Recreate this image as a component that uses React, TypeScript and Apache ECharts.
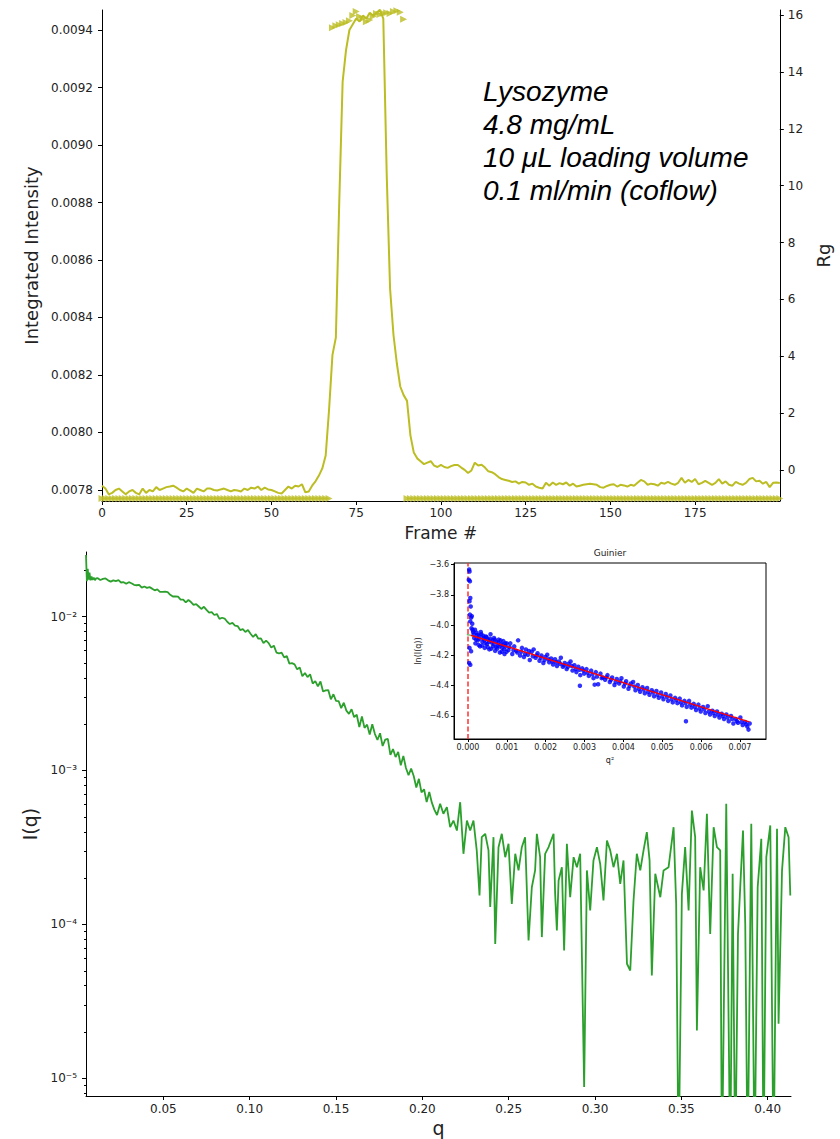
import React, { useEffect, useRef } from "react";
import * as echarts from "echarts";

// ---------- Top panel: integrated intensity per frame (frame # = index) ----------
const intensity: number[] = [
  0.007815, 0.007805, 0.007785, 0.00779, 0.0078, 0.007805, 0.007795, 0.007785, 0.007795, 0.0078,
  0.00779, 0.007785, 0.007805, 0.00779, 0.0078, 0.007795, 0.00781, 0.0078, 0.007805, 0.00781,
  0.007812, 0.007815, 0.007808, 0.0078, 0.007795, 0.007805, 0.007798, 0.00779, 0.007805, 0.0078,
  0.007795, 0.007805, 0.007805, 0.0078, 0.007798, 0.007802, 0.007805, 0.0078, 0.007795, 0.0078,
  0.007798, 0.007795, 0.007805, 0.0078, 0.007808, 0.007805, 0.007812, 0.0078, 0.007808, 0.007802,
  0.0078, 0.007795, 0.00779, 0.007788, 0.0078, 0.007812, 0.007805, 0.007815, 0.007812, 0.00782,
  0.007792, 0.007795, 0.007815, 0.00783, 0.00785, 0.007875, 0.00792, 0.00808, 0.00827, 0.00833,
  0.0088, 0.00922, 0.00933, 0.0094, 0.00942, 0.00944, 0.00943, 0.00945, 0.00944, 0.00946,
  0.00945, 0.00946, 0.00947, 0.00944, 0.0089, 0.0085, 0.00834, 0.00824, 0.00816, 0.00813,
  0.00811, 0.00799, 0.00793, 0.00791, 0.0079, 0.00789, 0.007895, 0.0079, 0.007885, 0.00788,
  0.007887, 0.00788, 0.007877, 0.007883, 0.007887, 0.007887, 0.007878, 0.00787, 0.007859, 0.007868,
  0.007895, 0.007885, 0.007888, 0.007878, 0.007865, 0.007862, 0.007855, 0.007845, 0.007838, 0.007835,
  0.007832, 0.007828, 0.00783, 0.007822, 0.007828, 0.007826, 0.007818, 0.007822, 0.007812, 0.007808,
  0.007805, 0.007825, 0.007815, 0.007826, 0.007818, 0.007824, 0.00782, 0.007826, 0.007815, 0.007822,
  0.007812, 0.007815, 0.007818, 0.00782, 0.007822, 0.00782, 0.007818, 0.00781, 0.007808, 0.007814,
  0.007818, 0.00782, 0.007812, 0.007818, 0.007816, 0.007812, 0.007818, 0.007815, 0.007825, 0.007835,
  0.00783, 0.007818, 0.007822, 0.00782, 0.007815, 0.007825, 0.007822, 0.007828, 0.007822, 0.007818,
  0.007825, 0.007842, 0.007825, 0.007835, 0.007828, 0.007838, 0.00782, 0.007825, 0.007832, 0.007825,
  0.007818, 0.007825, 0.007838, 0.007822, 0.00783, 0.007818, 0.007815, 0.007828, 0.007822, 0.007818,
  0.007825, 0.007838, 0.007842, 0.00783, 0.007832, 0.007822, 0.007828, 0.00781, 0.007825, 0.007826,
  0.007824,
];

// Rg per frame (frame # = index); -1 where no Rg was found
const rg: number[] = [
  -1, -1, -1, -1, -1, -1, -1, -1, -1, -1,
  -1, -1, -1, -1, -1, -1, -1, -1, -1, -1,
  -1, -1, -1, -1, -1, -1, -1, -1, -1, -1,
  -1, -1, -1, -1, -1, -1, -1, -1, -1, -1,
  -1, -1, -1, -1, -1, -1, -1, -1, -1, -1,
  -1, -1, -1, -1, -1, -1, -1, -1, -1, -1,
  -1, -1, -1, -1, -1, -1, -1, -1, 15.55, 15.62,
  15.66, 15.7, 15.74, 15.8, 15.98, 16.12, 15.95, 15.88, 15.76, 15.82,
  15.95, 16.05, 16.02, 16.06, 16.08, 16.05, 16.12, 16.15, 16.1, 15.85,
  -1, -1, -1, -1, -1, -1, -1, -1, -1, -1,
  -1, -1, -1, -1, -1, -1, -1, -1, -1, -1,
  -1, -1, -1, -1, -1, -1, -1, -1, -1, -1,
  -1, -1, -1, -1, -1, -1, -1, -1, -1, -1,
  -1, -1, -1, -1, -1, -1, -1, -1, -1, -1,
  -1, -1, -1, -1, -1, -1, -1, -1, -1, -1,
  -1, -1, -1, -1, -1, -1, -1, -1, -1, -1,
  -1, -1, -1, -1, -1, -1, -1, -1, -1, -1,
  -1, -1, -1, -1, -1, -1, -1, -1, -1, -1,
  -1, -1, -1, -1, -1, -1, -1, -1, -1, -1,
  -1, -1, -1, -1, -1, -1, -1, -1, -1, -1,
  -1,
];

const frameTicks = [0, 25, 50, 75, 100, 125, 150, 175];
const intensityTicks = [0.0078, 0.008, 0.0082, 0.0084, 0.0086, 0.0088, 0.009, 0.0092, 0.0094];
const rgTicks = [0, 2, 4, 6, 8, 10, 12, 14, 16];

// ---------- Bottom panel: I(q), stored as [q, log10 I(q)] (plotted on a log-decade axis) ----------
const iqLog10: [number, number][] = [
  [0.0052, -1.6], [0.0057, -1.77], [0.0062, -1.69], [0.0067, -1.76], [0.0072, -1.715], [0.0078, -1.765],
  [0.0084, -1.74], [0.009, -1.762], [0.0097, -1.748], [0.0104, -1.764], [0.0111, -1.752],
  [0.012, -1.751], [0.0135, -1.763], [0.015, -1.756], [0.0165, -1.753], [0.018, -1.765], [0.0195, -1.773],
  [0.021, -1.765], [0.0225, -1.77], [0.024, -1.764], [0.0255, -1.779], [0.027, -1.777], [0.0285, -1.787],
  [0.03, -1.777], [0.0315, -1.784], [0.033, -1.794], [0.0345, -1.797], [0.036, -1.794], [0.0375, -1.812],
  [0.039, -1.805], [0.0405, -1.814], [0.042, -1.809], [0.0435, -1.819], [0.045, -1.83], [0.0465, -1.824],
  [0.048, -1.84], [0.0495, -1.84], [0.051, -1.839], [0.0525, -1.842], [0.054, -1.859], [0.0555, -1.87],
  [0.057, -1.869], [0.0585, -1.871], [0.06, -1.89], [0.0615, -1.89], [0.063, -1.908], [0.0645, -1.893],
  [0.066, -1.906], [0.0675, -1.924], [0.069, -1.919], [0.0705, -1.935], [0.072, -1.951], [0.0735, -1.937],
  [0.075, -1.957], [0.0765, -1.975], [0.078, -1.971], [0.0795, -1.99], [0.081, -1.984], [0.0825, -2.015],
  [0.084, -2.008], [0.0855, -2.013], [0.087, -2.034], [0.0885, -2.049], [0.09, -2.041], [0.0915, -2.059],
  [0.093, -2.062], [0.0945, -2.088], [0.096, -2.082], [0.0975, -2.1], [0.099, -2.088], [0.1005, -2.112],
  [0.102, -2.133], [0.1035, -2.114], [0.105, -2.144], [0.1065, -2.142], [0.108, -2.173], [0.1095, -2.157],
  [0.111, -2.173], [0.1125, -2.202], [0.114, -2.189], [0.1155, -2.234], [0.117, -2.239], [0.1185, -2.235],
  [0.12, -2.265], [0.1215, -2.257], [0.123, -2.306], [0.1245, -2.303], [0.126, -2.311], [0.1275, -2.343],
  [0.129, -2.331], [0.1305, -2.388], [0.132, -2.367], [0.1335, -2.393], [0.135, -2.375], [0.1365, -2.435],
  [0.138, -2.419], [0.1395, -2.454], [0.141, -2.422], [0.1425, -2.487], [0.144, -2.48], [0.1455, -2.478],
  [0.147, -2.538], [0.1485, -2.505], [0.15, -2.548], [0.1515, -2.549], [0.153, -2.595], [0.1545, -2.56],
  [0.156, -2.611], [0.1575, -2.632], [0.159, -2.602], [0.1605, -2.654], [0.162, -2.638], [0.1635, -2.718],
  [0.165, -2.649], [0.1665, -2.723], [0.168, -2.702], [0.1695, -2.766], [0.171, -2.7], [0.1725, -2.762],
  [0.174, -2.802], [0.1755, -2.758], [0.177, -2.841], [0.1785, -2.8], [0.18, -2.795], [0.1815, -2.898],
  [0.183, -2.861], [0.1845, -2.913], [0.186, -2.879], [0.1875, -2.966], [0.189, -2.905], [0.1905, -2.984],
  [0.192, -3.031], [0.1935, -2.988], [0.195, -3.036], [0.1965, -3.11], [0.198, -3.054], [0.1995, -3.142],
  [0.201, -3.122], [0.2025, -3.205], [0.204, -3.14], [0.2055, -3.209], [0.207, -3.256], [0.2085, -3.289],
  [0.2103, -3.216], [0.2122, -3.281], [0.2142, -3.238], [0.2161, -3.368], [0.218, -3.325], [0.22, -3.39],
  [0.2219, -3.206], [0.2238, -3.541], [0.2258, -3.325], [0.2277, -3.39], [0.2296, -3.325], [0.2315, -3.519],
  [0.2331, -3.812], [0.2344, -3.433], [0.2364, -3.411], [0.2383, -3.519], [0.2393, -3.887], [0.2412, -3.433],
  [0.2422, -4.126], [0.2441, -3.498], [0.246, -3.411], [0.248, -3.563], [0.2499, -3.476], [0.2518, -3.866],
  [0.2538, -3.541], [0.2557, -3.649], [0.2576, -3.498], [0.2595, -3.433], [0.2615, -4.104], [0.2634, -3.758],
  [0.2653, -3.649], [0.2663, -3.411], [0.2682, -3.563], [0.2692, -4.082], [0.2711, -3.541], [0.2731, -3.498],
  [0.276, -3.411], [0.2769, -3.801], [0.2779, -4.039], [0.2789, -3.714], [0.2808, -3.628], [0.2821, -4.169],
  [0.2837, -3.476], [0.2856, -3.823], [0.2876, -3.563], [0.2895, -3.628], [0.2914, -3.541], [0.2937, -5.056],
  [0.2953, -3.649], [0.2972, -3.909], [0.2991, -3.584], [0.3011, -3.498], [0.303, -3.606], [0.3049, -3.844],
  [0.3069, -3.455], [0.3088, -3.519], [0.3107, -3.628], [0.3127, -3.541], [0.3146, -3.736], [0.3165, -3.584],
  [0.3185, -4.255], [0.3204, -4.299], [0.3223, -3.844], [0.3242, -3.541], [0.3262, -3.649], [0.3281, -3.519],
  [0.33, -3.4], [0.3316, -3.584], [0.3329, -4.331], [0.3349, -3.671], [0.3378, -3.823], [0.3397, -3.649],
  [0.3426, -3.628], [0.3455, -3.368], [0.347, -3.866], [0.3484, -5.6], [0.3503, -3.801], [0.3522, -3.498],
  [0.3542, -3.909], [0.3561, -3.26], [0.358, -3.433], [0.359, -4.688], [0.3609, -3.628], [0.3629, -3.779],
  [0.3648, -3.281], [0.3667, -4.061], [0.3687, -3.368], [0.3706, -3.498], [0.3725, -3.519], [0.3735, -5.6],
  [0.376, -3.216], [0.3783, -5.6], [0.3797, -3.671], [0.3812, -5.6], [0.3828, -4.061], [0.3841, -3.758],
  [0.3857, -3.39], [0.387, -3.996], [0.3884, -5.6], [0.3905, -3.346], [0.3924, -5.6], [0.3942, -3.758],
  [0.3963, -3.444], [0.3976, -5.6], [0.3992, -3.563], [0.4015, -3.357], [0.4034, -5.6], [0.4054, -3.379],
  [0.4063, -4.645], [0.4083, -3.649], [0.4102, -3.368], [0.4121, -3.433], [0.4131, -3.812],
];

const qTicks = [0.05, 0.1, 0.15, 0.2, 0.25, 0.3, 0.35, 0.4];
const iqDecades = [-5, -4, -3, -2];
const iqTickLabels = ["10\u207B\u2075", "10\u207B\u2074", "10\u207B\u00B3", "10\u207B\u00B2"];

// ---------- Inset: Guinier plot [q^2, ln I(q)] ----------
const guinierPoints: [number, number][] = [
  [0.00003, -3.632], [0.00004, -3.645], [0.00002, -3.7], [0.00005, -3.71], [0.00006, -3.82], [0.00004, -3.842],
  [0.00007, -3.876], [0.00005, -3.93], [0.00008, -3.95], [0.00006, -3.975], [0.00009, -4.02], [0.00004, -4.15],
  [0.00008, -4.172], [0.00003, -4.25], [0.00006, -4.262], [0.0001, -3.94], [0.00011, -3.99], [0.00012, -4.03],
  [0.00013, -4.045], [0.00016, -4.085], [0.00019, -4.12], [0.00022, -4.05], [0.00025, -4.1], [0.00028, -4.07],
  [0.00031, -4.14], [0.00034, -4.06], [0.00037, -4.11], [0.0004, -4.085], [0.00043, -4.15], [0.00046, -4.075],
  [0.00049, -4.125], [0.00052, -4.095], [0.00055, -4.16], [0.00058, -4.06], [0.00061, -4.115], [0.00064, -4.14],
  [0.00067, -4.085], [0.0007, -4.17], [0.00073, -4.11], [0.00076, -4.135], [0.00079, -4.095], [0.00082, -4.18],
  [0.00085, -4.125], [0.00088, -4.15], [0.00091, -4.105], [0.00094, -4.19], [0.00097, -4.14], [0.001, -4.12],
  [0.00104, -4.165], [0.00109, -4.12], [0.00114, -4.19], [0.00119, -4.14], [0.00124, -4.17], [0.00129, -4.1],
  [0.00134, -4.2], [0.00139, -4.15], [0.00144, -4.21], [0.00149, -4.16], [0.00154, -4.195], [0.00159, -4.23],
  [0.00164, -4.175], [0.00169, -4.16], [0.00174, -4.215], [0.00179, -4.185], [0.00184, -4.235], [0.00189, -4.2],
  [0.00194, -4.25], [0.00199, -4.21], [0.00204, -4.195], [0.00209, -4.245], [0.00214, -4.22], [0.00219, -4.26],
  [0.00224, -4.225], [0.00229, -4.27], [0.00234, -4.24], [0.00239, -4.215], [0.00244, -4.275], [0.00249, -4.25],
  [0.00254, -4.29], [0.00259, -4.255], [0.00264, -4.24], [0.00269, -4.3], [0.00274, -4.265], [0.00279, -4.31],
  [0.00284, -4.275], [0.00288, -4.4], [0.00289, -4.33], [0.00294, -4.285], [0.00299, -4.32], [0.00305, -4.29],
  [0.00311, -4.335], [0.00317, -4.3], [0.00323, -4.35], [0.00326, -4.393], [0.00329, -4.31], [0.00335, -4.39],
  [0.00341, -4.32], [0.00347, -4.345], [0.00353, -4.36], [0.00359, -4.33], [0.00365, -4.375], [0.00371, -4.345],
  [0.00377, -4.395], [0.00383, -4.355], [0.00389, -4.385], [0.00395, -4.35], [0.00401, -4.405], [0.00407, -4.37],
  [0.00413, -4.42], [0.00419, -4.385], [0.00425, -4.375], [0.00431, -4.43], [0.00437, -4.395], [0.00443, -4.44],
  [0.00449, -4.41], [0.00455, -4.45], [0.00461, -4.415], [0.00467, -4.46], [0.00473, -4.43], [0.00479, -4.47],
  [0.00485, -4.435], [0.00491, -4.48], [0.00497, -4.445], [0.00503, -4.49], [0.00509, -4.455], [0.00515, -4.5],
  [0.00521, -4.465], [0.00527, -4.51], [0.00533, -4.48], [0.00539, -4.515], [0.00545, -4.485], [0.00551, -4.53],
  [0.00557, -4.5], [0.00561, -4.635], [0.00563, -4.54], [0.00569, -4.5], [0.00575, -4.545], [0.00581, -4.52],
  [0.00587, -4.56], [0.00593, -4.525], [0.00599, -4.57], [0.00605, -4.54], [0.00611, -4.58], [0.00617, -4.535],
  [0.00623, -4.59], [0.00629, -4.565], [0.00635, -4.6], [0.00641, -4.57], [0.00647, -4.61], [0.00653, -4.585],
  [0.00659, -4.62], [0.00665, -4.59], [0.00671, -4.635], [0.00677, -4.6], [0.00683, -4.65], [0.00689, -4.62],
  [0.00695, -4.645], [0.00701, -4.61], [0.00707, -4.66], [0.00713, -4.64], [0.00719, -4.67], [0.00722, -4.69],
  [0.00725, -4.65],
  [0.00015, -4.06], [0.00018, -4.03], [0.00021, -4.095], [0.00024, -4.065], [0.00027, -4.13], [0.0003, -4.09],
  [0.00033, -4.045], [0.00036, -4.135], [0.00039, -4.07], [0.00042, -4.1], [0.00045, -4.12], [0.00048, -4.08],
  [0.00051, -4.145], [0.00054, -4.11], [0.00057, -4.09], [0.0006, -4.155], [0.00063, -4.1], [0.00066, -4.125],
  [0.00069, -4.095], [0.00072, -4.145], [0.00075, -4.155], [0.00078, -4.115], [0.00081, -4.14], [0.00084, -4.1],
  [0.00087, -4.175], [0.0009, -4.13], [0.00093, -4.16], [0.00096, -4.12], [0.00099, -4.175],
  [0.00107, -4.145], [0.00117, -4.165], [0.00127, -4.18], [0.00137, -4.175], [0.00147, -4.19], [0.00157, -4.17],
  [0.00167, -4.205], [0.00177, -4.2], [0.00187, -4.215], [0.00197, -4.23], [0.00207, -4.225], [0.00217, -4.24],
  [0.00227, -4.245], [0.00237, -4.255], [0.00247, -4.265], [0.00257, -4.275], [0.00267, -4.27], [0.00277, -4.29],
  [0.00287, -4.295], [0.00297, -4.3],
  [0.00308, -4.315], [0.0032, -4.325], [0.00332, -4.34], [0.00344, -4.35], [0.00356, -4.345], [0.00368, -4.36],
  [0.0038, -4.375], [0.00392, -4.37], [0.00404, -4.385], [0.00416, -4.4], [0.00428, -4.405], [0.0044, -4.42],
  [0.00452, -4.425], [0.00464, -4.44], [0.00476, -4.445], [0.00488, -4.46], [0.005, -4.47], [0.00512, -4.475],
  [0.00524, -4.49], [0.00536, -4.495], [0.00548, -4.51], [0.0056, -4.515], [0.00572, -4.525], [0.00584, -4.54],
  [0.00596, -4.55], [0.00608, -4.555], [0.0062, -4.57], [0.00632, -4.58], [0.00644, -4.59], [0.00656, -4.6],
  [0.00668, -4.61], [0.0068, -4.62], [0.00692, -4.635], [0.00704, -4.64], [0.00716, -4.655],
];
const guinierFit: [number, number][] = [[0.00007, -4.066], [0.00724, -4.639]];
const guinierExtrapolation: [number, number][] = [[-0.00003, -4.063], [0.00007, -4.066]];
const guinierLimits = [0.00007, 0.00724];
const q2Ticks = [0, 0.001, 0.002, 0.003, 0.004, 0.005, 0.006, 0.007];
const lnTicks = [-4.6, -4.4, -4.2, -4.0, -3.8, -3.6];

const FONT = "DejaVu Sans";
const OLIVE = "#bcbd22";

function axisCommon(ticks: number[], fontSize: number, margin: number, tickLen: number, formatter?: (v: number) => string) {
  return {
    axisLine: { show: true, onZero: false, lineStyle: { color: "#000", width: 1 } },
    axisTick: { show: true, inside: false, length: tickLen, customValues: ticks, lineStyle: { color: "#000", width: 1 } },
    axisLabel: {
      show: true,
      customValues: ticks,
      fontFamily: FONT,
      fontSize,
      color: "#222",
      margin,
      ...(formatter ? { formatter } : {}),
    },
    splitLine: { show: false },
  };
}

function buildOption() {
  const yMin = -5.114;
  const yMax = -1.581;
  const minorLog: number[] = [];
  [-6, -5, -4, -3, -2].forEach((d) => {
    for (let m = 2; m <= 9; m++) {
      const v = d + Math.log10(m);
      if (v > yMin && v < yMax) minorLog.push(v);
    }
  });
  const fmtMinus = (v: number, digits: number) => (v < 0 ? "\u2212" : "") + Math.abs(v).toFixed(digits);

  return {
    animation: false,
    backgroundColor: "#fff",
    textStyle: { fontFamily: FONT },
    grid: [
      { left: 102, top: 10, width: 681, height: 491 },
      { left: 86, top: 552, width: 705, height: 544 },
      { left: 454, top: 563, width: 312, height: 176, show: true, borderColor: "#000", borderWidth: 1, backgroundColor: "#fff" },
    ],
    xAxis: [
      {
        type: "value", gridIndex: 0, min: 0, max: 200,
        ...axisCommon(frameTicks, 12, 6, 4),
        name: "Frame #", nameLocation: "middle", nameGap: 23,
        nameTextStyle: { fontFamily: FONT, fontSize: 17, color: "#222" },
      },
      {
        type: "value", gridIndex: 1, min: 0.0052, max: 0.4135,
        ...axisCommon(qTicks, 12, 7, 4, (v: number) => v.toFixed(2)),
        name: "q", nameLocation: "middle", nameGap: 22,
        nameTextStyle: { fontFamily: FONT, fontSize: 19, color: "#222" },
      },
      {
        type: "value", gridIndex: 2, min: -0.00036, max: 0.00767,
        ...axisCommon(q2Ticks, 8, 4, 3, (v: number) => v.toFixed(3)),
        name: "q\u00B2", nameLocation: "middle", nameGap: 17,
        nameTextStyle: { fontFamily: FONT, fontSize: 8, color: "#222" },
      },
    ],
    yAxis: [
      {
        type: "value", gridIndex: 0, position: "left", min: 0.0077617, max: 0.0094696,
        ...axisCommon(intensityTicks, 12, 9, 4, (v: number) => v.toFixed(4)),
        name: "Integrated Intensity", nameLocation: "middle", nameGap: 59, nameRotate: 90,
        nameTextStyle: { fontFamily: FONT, fontSize: 18, color: "#222" },
      },
      {
        type: "value", gridIndex: 0, position: "right", min: -1.09, max: 16.176,
        ...axisCommon(rgTicks, 12, 8, 4, (v: number) => String(v)),
        name: "Rg", nameLocation: "middle", nameGap: 30, nameRotate: 90,
        nameTextStyle: { fontFamily: FONT, fontSize: 18, color: "#222" },
      },
      {
        type: "value", gridIndex: 1, position: "left", min: yMin, max: yMax,
        ...axisCommon(iqDecades, 12, 9, 4, (v: number) => {
          const i = iqDecades.findIndex((t) => Math.abs(t - v) < 1e-6);
          return i >= 0 ? iqTickLabels[i] : "";
        }),
        name: "I(q)", nameLocation: "middle", nameGap: 41, nameRotate: 90,
        nameTextStyle: { fontFamily: FONT, fontSize: 19, color: "#222" },
      },
      {
        type: "value", gridIndex: 1, position: "left", min: yMin, max: yMax,
        axisLine: { show: false, onZero: false },
        axisTick: { show: true, length: 2, customValues: minorLog, lineStyle: { color: "#000", width: 1 } },
        axisLabel: { show: false, customValues: minorLog },
        splitLine: { show: false },
      },
      {
        type: "value", gridIndex: 2, position: "left", min: -4.752, max: -3.589,
        ...axisCommon(lnTicks, 8, 5, 3, (v: number) => fmtMinus(v, 1)),
        name: "ln(I(q))", nameLocation: "middle", nameGap: 32, nameRotate: 90,
        nameTextStyle: { fontFamily: FONT, fontSize: 8, color: "#222" },
      },
    ],
    series: [
      {
        type: "line", xAxisIndex: 0, yAxisIndex: 0,
        data: intensity.map((v, i) => [i, v]),
        showSymbol: false, symbol: "none",
        lineStyle: { color: OLIVE, width: 2 }, itemStyle: { color: OLIVE },
        clip: true, z: 2,
      },
      {
        type: "scatter", xAxisIndex: 0, yAxisIndex: 1,
        data: rg.map((v, i) => [i, v]),
        symbol: "triangle", symbolRotate: -90, symbolSize: 7,
        itemStyle: { color: OLIVE }, z: 3,
      },
      {
        type: "line", xAxisIndex: 1, yAxisIndex: 2,
        data: iqLog10,
        showSymbol: false, symbol: "none",
        lineStyle: { color: "#2ca02c", width: 1.8 }, itemStyle: { color: "#2ca02c" },
        clip: true, z: 2,
      },
      {
        type: "scatter", xAxisIndex: 2, yAxisIndex: 4,
        data: guinierPoints,
        symbol: "circle", symbolSize: 4.5,
        itemStyle: { color: "#0000ff" }, z: 7,
      },
      {
        type: "line", xAxisIndex: 2, yAxisIndex: 4,
        data: guinierExtrapolation,
        showSymbol: false, symbol: "none",
        lineStyle: { color: "#2ca02c", width: 1 }, z: 8,
      },
      {
        type: "line", xAxisIndex: 2, yAxisIndex: 4,
        data: guinierFit,
        showSymbol: false, symbol: "none",
        lineStyle: { color: "#ff0000", width: 1.5 }, itemStyle: { color: "#ff0000" }, z: 8,
        markLine: {
          silent: true, symbol: "none", label: { show: false },
          lineStyle: { color: "#ff3030", width: 1.5, type: [5, 2.5] },
          data: guinierLimits.map((x) => ({ xAxis: x })),
        },
      },
    ],
    graphic: [
      {
        type: "text", left: 483, top: 75, z: 10,
        style: {
          text: "Lysozyme\n4.8 mg/mL\n10 \u03BCL loading volume\n0.1 ml/min (coflow)",
          fontFamily: "Liberation Sans", fontStyle: "italic", fontSize: 28, lineHeight: 33, fill: "#000",
        },
      },
      {
        type: "text", x: 610, y: 553, z: 10,
        style: { text: "Guinier", fontFamily: FONT, fontSize: 9, fill: "#222", textAlign: "center", textVerticalAlign: "middle" },
      },
    ],
  };
}

export default function App() {
  const ref = useRef<HTMLDivElement>(null);
  useEffect(() => {
    document.body.style.margin = "0";
    const chart = echarts.init(ref.current as HTMLDivElement, undefined, { renderer: "svg" });
    chart.setOption(buildOption() as any);
    return () => chart.dispose();
  }, []);
  return <div ref={ref} style={{ width: 840, height: 1139 }} />;
}
